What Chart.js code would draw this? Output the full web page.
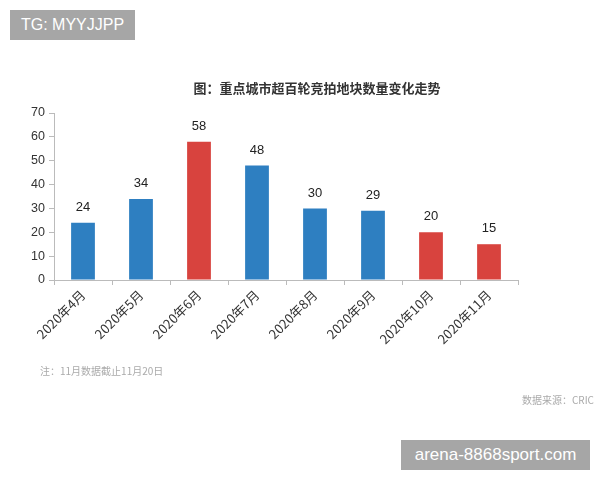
<!DOCTYPE html>
<html>
<head>
<meta charset="utf-8">
<script src="https://cdn.jsdelivr.net/npm/chart.js@4"></script>
<style>
  body { margin: 0; background: #fff; font-family: "Noto Sans CJK SC", "Noto Sans", sans-serif; }
  #wrap { position: relative; width: 600px; height: 480px; overflow: hidden; }
  #c { position: absolute; left: 0; top: 0; }
  .mark { position: absolute; background: #a6a6a6; color: #fff; font-family: "Liberation Sans", Arial, sans-serif; }
  .title { position: absolute; left: 0; width: 634px; top: 78px; text-align: center; font-size: 13px; font-weight: bold; color: #333; }
  .note { position: absolute; font-size: 10px; color: #aaa; }
</style>
</head>
<body>
<div id="wrap">
  <canvas id="c" width="600" height="480"></canvas>
  <div class="mark" style="left:10px;top:10px;width:125px;height:30px;line-height:30px;font-size:16px;text-align:center;">TG: MYYJJPP</div>
  <div class="title">图：重点城市超百轮竞拍地块数量变化走势</div>
  <div class="note" style="left:40px;top:363px;">注：11月数据截止11月20日</div>
  <div class="note" style="right:6px;top:392px;">数据来源：CRIC</div>
  <div class="mark" style="left:401px;top:440px;width:189px;height:30px;line-height:30px;font-size:17px;text-align:center;">arena-8868sport.com</div>
</div>
<script>
const MONTHS = ['2020年4月', '2020年5月', '2020年6月', '2020年7月', '2020年8月', '2020年9月', '2020年10月', '2020年11月'];
const COUNTS = [24, 34, 58, 48, 30, 29, 20, 15];
const HIGHLIGHT = [false, false, true, false, false, false, true, true];
const Y_TICKS = [0, 10, 20, 30, 40, 50, 60, 70];

const BLUE = '#2e7fc1';
const RED = '#d8433e';

const valueLabels = {
  id: 'valueLabels',
  afterDatasetsDraw(chart) {
    const ctx = chart.ctx;
    const meta = chart.getDatasetMeta(0);
    ctx.save();
    ctx.font = '13px "Liberation Sans", Arial, sans-serif';
    ctx.fillStyle = '#222';
    ctx.textAlign = 'center';
    ctx.textBaseline = 'bottom';
    meta.data.forEach((bar, i) => {
      ctx.fillText(String(COUNTS[i]), bar.x, bar.y - 9);
    });
    ctx.restore();
  }
};

new Chart(document.getElementById('c'), {
  type: 'bar',
  data: {
    labels: MONTHS,
    datasets: [{
      data: COUNTS,
      backgroundColor: HIGHLIGHT.map(h => h ? RED : BLUE),
      barPercentage: 0.41,
      categoryPercentage: 1,
    }],
  },
  options: {
    responsive: false,
    animation: false,
    layout: { padding: { left: 0, right: 82, top: 113, bottom: 0 } },
    plugins: { legend: { display: false }, tooltip: { enabled: false } },
    scales: {
      x: {
        afterFit: (s) => { s.height = 200; },
        grid: { offset: true, drawOnChartArea: false, tickLength: 5, color: '#bbb' },
        border: { color: '#bbb' },
        ticks: {
          minRotation: 45, maxRotation: 45,
          color: '#333',
          font: { size: 13, family: '"Noto Sans CJK SC", sans-serif' },
          padding: 2,
        },
      },
      y: {
        min: 0, max: 70,
        afterFit: (s) => { s.width = 54; },
        afterBuildTicks: (s) => { s.ticks = Y_TICKS.map(v => ({ value: v })); },
        grid: { drawOnChartArea: false, tickLength: 5, color: '#bbb' },
        border: { color: '#bbb' },
        ticks: { color: '#333', font: { size: 12.5, family: '"Liberation Sans", Arial, sans-serif' }, padding: 4 },
      },
    },
  },
  plugins: [valueLabels],
});
</script>
</body>
</html>
